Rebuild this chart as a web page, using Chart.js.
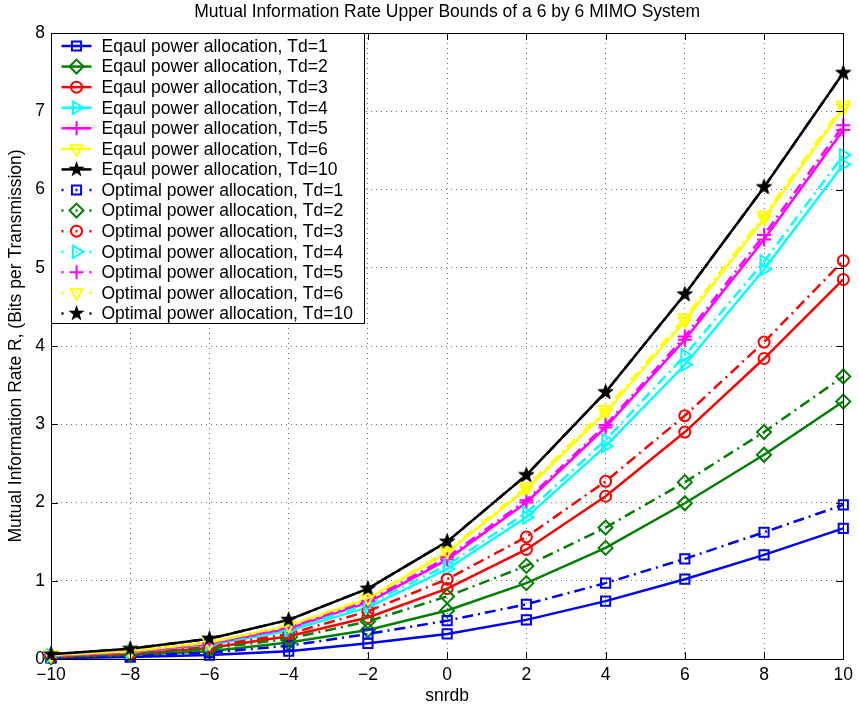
<!DOCTYPE html>
<html lang="en">
<head>
  <meta charset="UTF-8" />
  <title>Mutual Information Rate Upper Bounds</title>
  <script src="https://cdn.jsdelivr.net/npm/chart.js"></script>
  <style>
    html, body { margin: 0; padding: 0; background: #fff; }
    #wrap { width: 859px; height: 707px; }
  </style>
</head>
<body>
  <div id="wrap"><canvas id="chart" width="859" height="707"></canvas></div>

  <script>
    // x values (snr in dB)
    const snrdb = [-10, -8, -6, -4, -2, 0, 2, 4, 6, 8, 10];

    // equal power allocation
    const eqTd1  = [0.01, 0.025, 0.05, 0.10, 0.20, 0.32, 0.50, 0.74, 1.02, 1.33, 1.67];
    const eqTd2  = [0.02, 0.05, 0.10, 0.21, 0.37, 0.62, 0.97, 1.42, 1.99, 2.61, 3.29];
    const eqTd3  = [0.03, 0.065, 0.14, 0.29, 0.53, 0.90, 1.40, 2.08, 2.90, 3.84, 4.85];
    const eqTd4  = [0.04, 0.085, 0.18, 0.36, 0.66, 1.15, 1.81, 2.72, 3.76, 4.98, 6.32];
    const eqTd5  = [0.045, 0.09, 0.19, 0.39, 0.72, 1.27, 2.00, 2.96, 4.08, 5.36, 6.76];
    const eqTd6  = [0.05, 0.10, 0.21, 0.42, 0.77, 1.36, 2.17, 3.15, 4.32, 5.63, 7.04];
    const eqTd10 = [0.06, 0.13, 0.26, 0.50, 0.90, 1.50, 2.35, 3.41, 4.66, 6.03, 7.49];

    // optimal power allocation
    const optTd1  = [0.02, 0.04, 0.08, 0.17, 0.32, 0.49, 0.70, 0.97, 1.28, 1.62, 1.97];
    const optTd2  = [0.03, 0.06, 0.13, 0.26, 0.48, 0.80, 1.19, 1.68, 2.26, 2.90, 3.61];
    const optTd3  = [0.035, 0.08, 0.16, 0.32, 0.61, 1.02, 1.56, 2.27, 3.11, 4.05, 5.09];
    const optTd4  = [0.042, 0.09, 0.19, 0.38, 0.70, 1.20, 1.87, 2.80, 3.88, 5.08, 6.44];
    const optTd5  = [0.046, 0.095, 0.20, 0.40, 0.74, 1.30, 2.03, 2.99, 4.12, 5.42, 6.82];
    const optTd6  = [0.05, 0.10, 0.21, 0.43, 0.78, 1.38, 2.20, 3.19, 4.36, 5.67, 7.08];
    const optTd10 = [0.06, 0.13, 0.26, 0.50, 0.90, 1.50, 2.35, 3.41, 4.66, 6.03, 7.49];

    const xTicks = [-10, -8, -6, -4, -2, 0, 2, 4, 6, 8, 10];
    const yTicks = [0, 1, 2, 3, 4, 5, 6, 7, 8];

    const FONT = "'Liberation Sans', Arial, Helvetica, sans-serif";
    const FS = 17.5;

    // filled 5-point star marker
    function makeStar(r, color) {
      const c = document.createElement('canvas');
      c.width = c.height = Math.ceil(2 * r + 2);
      const g = c.getContext('2d');
      const cx = c.width / 2, cy = c.height / 2, ri = r * 0.4;
      g.beginPath();
      for (let k = 0; k < 10; k++) {
        const rr = k % 2 ? ri : r;
        const a = -Math.PI / 2 + k * Math.PI / 5;
        g.lineTo(cx + rr * Math.cos(a), cy + rr * Math.sin(a));
      }
      g.closePath();
      g.fillStyle = color;
      g.fill();
      return c;
    }
    const star = makeStar(8.5, '#000');

    const series = [
      { label: 'Eqaul power allocation, Td=1',  data: eqTd1,  color: '#0000ff', style: 'rect',     rot: 0,   r: 6.5 },
      { label: 'Eqaul power allocation, Td=2',  data: eqTd2,  color: '#008000', style: 'rectRot',  rot: 0,   r: 7 },
      { label: 'Eqaul power allocation, Td=3',  data: eqTd3,  color: '#ff0000', style: 'circle',   rot: 0,   r: 5.5 },
      { label: 'Eqaul power allocation, Td=4',  data: eqTd4,  color: '#00ffff', style: 'triangle', rot: 90,  r: 7 },
      { label: 'Eqaul power allocation, Td=5',  data: eqTd5,  color: '#ff00ff', style: 'cross',    rot: 0,   r: 7 },
      { label: 'Eqaul power allocation, Td=6',  data: eqTd6,  color: '#ffff00', style: 'triangle', rot: 180, r: 7 },
      { label: 'Eqaul power allocation, Td=10', data: eqTd10, color: '#000000', style: star,       rot: 0,   r: 8 },
      { label: 'Optimal power allocation, Td=1',  data: optTd1,  color: '#0000ff', style: 'rect',     rot: 0,   r: 6.5, dash: true },
      { label: 'Optimal power allocation, Td=2',  data: optTd2,  color: '#008000', style: 'rectRot',  rot: 0,   r: 7,   dash: true },
      { label: 'Optimal power allocation, Td=3',  data: optTd3,  color: '#ff0000', style: 'circle',   rot: 0,   r: 5.5, dash: true },
      { label: 'Optimal power allocation, Td=4',  data: optTd4,  color: '#00ffff', style: 'triangle', rot: 90,  r: 7,   dash: true },
      { label: 'Optimal power allocation, Td=5',  data: optTd5,  color: '#ff00ff', style: 'cross',    rot: 0,   r: 7,   dash: true },
      { label: 'Optimal power allocation, Td=6',  data: optTd6,  color: '#ffff00', style: 'triangle', rot: 180, r: 7,   dash: true },
      { label: 'Optimal power allocation, Td=10', data: optTd10, color: '#000000', style: star,       rot: 0,   r: 8,   dash: true }
    ];
    const DASHDOT = [11, 5, 2, 5];

    const datasets = series.map((s, i) => ({
      label: s.label,
      data: snrdb.map((x, j) => ({ x: x, y: s.data[j] })),
      borderColor: s.color,
      backgroundColor: s.color,
      borderWidth: 2.5,
      borderDash: s.dash ? DASHDOT : [],
      pointStyle: s.style,
      pointRotation: s.rot,
      pointRadius: s.r,
      pointBorderColor: s.color,
      pointBackgroundColor: 'rgba(0,0,0,0)',
      pointBorderWidth: 2,
      tension: 0,
      clip: false,
      order: series.length - i
    }));

    // MATLAB-like box, inward ticks and legend inside the axes
    const matlabAxes = {
      id: 'matlabAxes',
      afterDraw(chart) {
        const ctx = chart.ctx;
        const a = chart.chartArea;
        const xs = chart.scales.x, ys = chart.scales.y;
        const tl = 7;
        ctx.save();
        ctx.strokeStyle = '#000';
        ctx.lineWidth = 1;
        ctx.setLineDash([]);
        ctx.beginPath();
        xTicks.forEach(v => {
          const px = Math.round(xs.getPixelForValue(v)) + 0.5;
          ctx.moveTo(px, a.bottom); ctx.lineTo(px, a.bottom - tl);
          ctx.moveTo(px, a.top); ctx.lineTo(px, a.top + tl);
        });
        yTicks.forEach(v => {
          const py = Math.round(ys.getPixelForValue(v)) + 0.5;
          ctx.moveTo(a.left, py); ctx.lineTo(a.left + tl, py);
          ctx.moveTo(a.right, py); ctx.lineTo(a.right - tl, py);
        });
        ctx.stroke();
        ctx.strokeRect(Math.round(a.left) + 0.5, Math.round(a.top) + 0.5,
          Math.round(a.right - a.left), Math.round(a.bottom - a.top));

        // legend box
        const lx = Math.round(a.left) + 0.5, ly = Math.round(a.top) + 0.5;
        const lw = 313, rowH = 20.57, lh = 290;
        ctx.fillStyle = '#fff';
        ctx.fillRect(lx, ly, lw, lh);
        ctx.strokeRect(lx, ly, lw, lh);
        ctx.font = FS + 'px ' + FONT;
        ctx.textBaseline = 'middle';
        ctx.textAlign = 'left';
        chart.data.datasets.forEach((ds, i) => {
          const y = ly + 12.5 + i * rowH;
          ctx.save();
          ctx.strokeStyle = ds.borderColor;
          ctx.lineWidth = ds.borderWidth;
          ctx.setLineDash(ds.borderDash.length ? [2, 12] : []);
          ctx.beginPath();
          ctx.moveTo(lx + 10, y);
          ctx.lineTo(lx + 40, y);
          ctx.stroke();
          ctx.setLineDash([]);
          ctx.fillStyle = 'rgba(0,0,0,0)';
          ctx.strokeStyle = ds.pointBorderColor;
          ctx.lineWidth = ds.pointBorderWidth;
          Chart.helpers.drawPoint(ctx, {
            pointStyle: ds.pointStyle,
            rotation: ds.pointRotation,
            radius: ds.pointRadius,
            borderWidth: ds.pointBorderWidth
          }, lx + 25, y);
          ctx.restore();
          ctx.fillStyle = '#000';
          ctx.fillText(ds.label, lx + 50, y + 1);
        });
        ctx.restore();
      }
    };

    const minus = v => String(v).replace('-', '\u2212');

    new Chart(document.getElementById('chart'), {
      type: 'line',
      data: { datasets: datasets },
      plugins: [matlabAxes],
      options: {
        responsive: false,
        animation: false,
        layout: { padding: { left: 0, right: 13, top: 0, bottom: 0 } },
        plugins: {
          legend: { display: false },
          tooltip: { enabled: false },
          title: {
            display: true,
            fullSize: false,
            text: 'Mutual Information Rate Upper Bounds of a 6 by 6 MIMO System',
            color: '#000',
            font: { family: FONT, size: FS, weight: 'normal' },
            padding: { top: 2, bottom: 10 }
          }
        },
        scales: {
          x: {
            type: 'linear',
            min: -10,
            max: 10,
            afterFit: s => { s.height = 48; },
            afterBuildTicks: s => { s.ticks = xTicks.map(v => ({ value: v })); },
            ticks: {
              color: '#000',
              font: { family: FONT, size: FS },
              padding: 6,
              maxRotation: 0,
              callback: v => minus(v)
            },
            grid: { color: 'rgba(0,0,0,0.55)', lineWidth: 1, drawTicks: false },
            border: { display: false, dash: [1, 4] },
            title: {
              display: true,
              text: 'snrdb',
              color: '#000',
              font: { family: FONT, size: FS },
              padding: { top: 0, bottom: 0 }
            }
          },
          y: {
            min: 0,
            max: 8,
            afterFit: s => { s.width = 51; },
            afterBuildTicks: s => { s.ticks = yTicks.map(v => ({ value: v })); },
            ticks: {
              color: '#000',
              font: { family: FONT, size: FS },
              padding: 6,
              callback: v => minus(v)
            },
            grid: { color: 'rgba(0,0,0,0.55)', lineWidth: 1, drawTicks: false },
            border: { display: false, dash: [1, 4] },
            title: {
              display: true,
              text: 'Mutual Information Rate R, (Bits per Transmission)',
              color: '#000',
              font: { family: FONT, size: FS },
              padding: { top: 6, bottom: 0 }
            }
          }
        }
      }
    });
  </script>
</body>
</html>
